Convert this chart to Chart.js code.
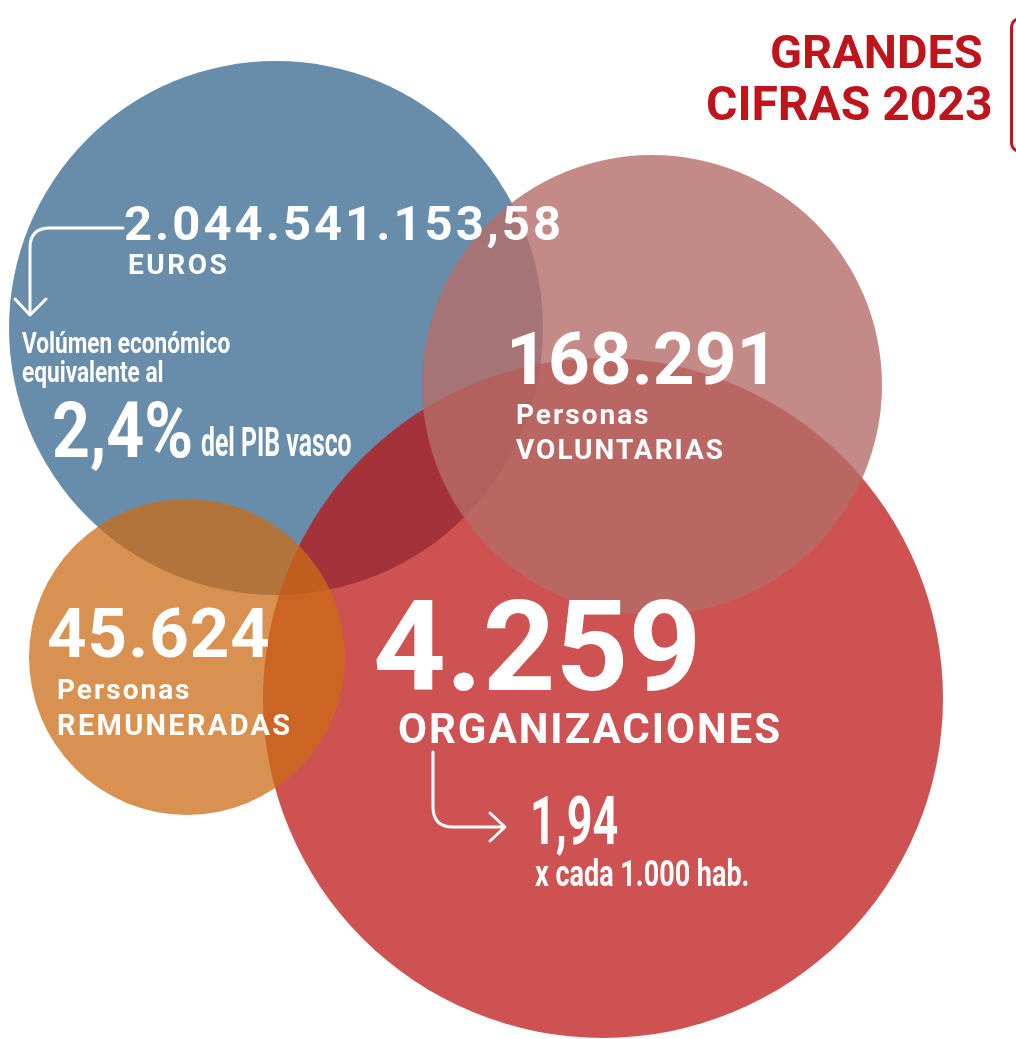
<!DOCTYPE html>
<html lang="es">
<head>
  <meta charset="UTF-8" />
  <title>Grandes cifras 2023</title>
  <script src="https://cdn.jsdelivr.net/npm/chart.js"></script>
  <style>
    html, body { margin: 0; padding: 0; background: #fff; }
    .wrap { position: relative; width: 1016px; height: 1039px; overflow: hidden; font-family: Roboto, "Open Sans", sans-serif; }
    canvas { position: absolute; left: 0; top: 0; }
    .t { position: absolute; white-space: nowrap; line-height: 1; color: #fff; font-weight: 700; }
    .c { transform-origin: 0 0; }
    .title { color: #c0141c; }
    .box { position: absolute; left: 1010px; top: 17px; width: 30px; height: 130px; border: 3px solid #c0141c; border-radius: 10px; }
    svg { position: absolute; left: 0; top: 0; }
  </style>
</head>
<body>
  <div class="wrap">
    <canvas id="bubbles" width="1016" height="1039"></canvas>

    <div class="t title" style="left:770px; top:28px; font-size:47px;">GRANDES</div>
    <div class="t title" style="left:706px; top:80px; font-size:48px;">CIFRAS 2023</div>
    <div class="box"></div>

    <!-- blue -->
    <div class="t" style="left:124px; top:199px; font-size:49px; letter-spacing:3px;">2.044.541.153,58</div>
    <div class="t" style="left:128px; top:251px; font-size:28px; letter-spacing:2.5px;">EUROS</div>
    <div class="t c" style="left:22px; top:329px; font-size:29px; transform:scaleX(0.78);">Volúmen económico</div>
    <div class="t c" style="left:22px; top:358px; font-size:29px; transform:scaleX(0.78);">equivalente al</div>
    <div class="t c" style="left:52px; top:393px; font-size:77px; transform:scaleX(0.86);">2,4%</div>
    <div class="t c" style="left:201px; top:423px; font-size:40px; transform:scaleX(0.62);">del PIB vasco</div>

    <!-- pink -->
    <div class="t" style="left:506px; top:323px; font-size:73px;">168.291</div>
    <div class="t" style="left:516px; top:401px; font-size:28px; letter-spacing:2px;">Personas</div>
    <div class="t" style="left:516px; top:436px; font-size:28px; letter-spacing:2px;">VOLUNTARIAS</div>

    <!-- orange -->
    <div class="t" style="left:47px; top:599px; font-size:69px; letter-spacing:1px;">45.624</div>
    <div class="t" style="left:57px; top:676px; font-size:28px; letter-spacing:2px;">Personas</div>
    <div class="t" style="left:57px; top:711px; font-size:29px; letter-spacing:2.3px;">REMUNERADAS</div>

    <!-- red -->
    <div class="t" style="left:373px; top:583px; font-size:127px;">4.259</div>
    <div class="t" style="left:398px; top:708px; font-size:42px; letter-spacing:2px;">ORGANIZACIONES</div>
    <div class="t c" style="left:530px; top:789px; font-size:66px; transform:scaleX(0.68);">1,94</div>
    <div class="t c" style="left:535px; top:856px; font-size:36px; transform:scaleX(0.75);">x cada 1.000 hab.</div>

    <svg width="1016" height="1039" fill="none" stroke="#fff" stroke-width="3" stroke-linecap="round" stroke-linejoin="round">
      <path d="M123 228 L50 228 Q30 228 30 248 L30 314" />
      <path d="M15 299 L30 315 L46 299" />
      <path d="M433 752 L433 807 Q433 827 453 827 L504 827" />
      <path d="M490 813 L505 827 L490 841" />
    </svg>
  </div>

  <script>
    // the four headline figures, drawn as overlapping bubbles
    const labels = ['Volumen económico (euros)', 'Organizaciones', 'Personas voluntarias', 'Personas remuneradas'];
    const values = [2044541153.58, 4259, 168291, 45624];
    const bubbleX = [276, 603, 652, 187];
    const bubbleY = [328, 698, 385, 657];
    const bubbleR = [267, 340, 230, 158];
    const colors = ['rgb(104,141,170)', 'rgba(187,15,15,0.72)', 'rgba(181,109,105,0.8)', 'rgba(203,108,21,0.75)'];

    const points = labels.map((l, i) => ({ x: bubbleX[i], y: bubbleY[i], r: bubbleR[i], v: values[i] }));

    new Chart(document.getElementById('bubbles'), {
      type: 'bubble',
      data: {
        labels: labels,
        datasets: [{
          data: points,
          backgroundColor: colors,
          hoverBackgroundColor: colors,
          borderWidth: 0,
          hoverBorderWidth: 0,
          hoverRadius: 0,
          clip: false
        }]
      },
      options: {
        responsive: false,
        animation: false,
        events: [],
        layout: { padding: 0, autoPadding: false },
        plugins: { legend: { display: false }, tooltip: { enabled: false } },
        scales: {
          x: { display: false, min: 0, max: 1016 },
          y: { display: false, min: 0, max: 1039, reverse: true }
        }
      }
    });
  </script>
</body>
</html>
